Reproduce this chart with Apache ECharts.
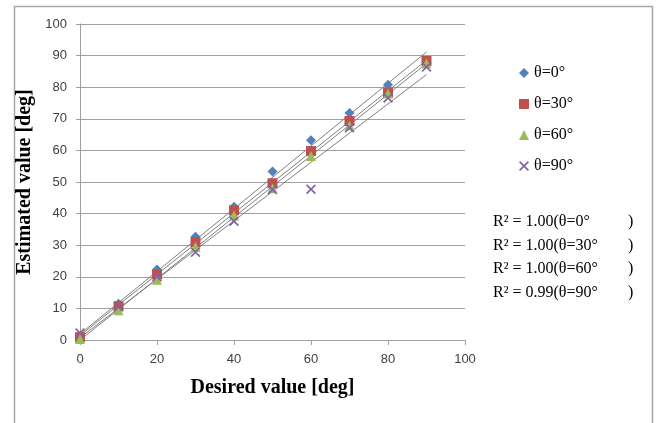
<!DOCTYPE html>
<html>
<head>
<meta charset="utf-8">
<script src="https://cdn.jsdelivr.net/npm/echarts@6/dist/echarts.min.js"></script>
<style>
html,body{margin:0;padding:0;background:#fff;}
#c{width:658px;height:423px;}
</style>
</head>
<body>
<div id="c"></div>
<script>
var xValues = [0, 10, 20, 30, 40, 50, 60, 70, 80, 90];
var theta0 = [-0.8, 11.5, 22.3, 32.7, 42.2, 53.3, 63.2, 71.8, 80.8, 88.2];
var theta30 = [0.9, 10.7, 20.8, 31.0, 41.0, 49.6, 59.8, 69.3, 78.3, 88.3];
var theta60 = [0.3, 9.4, 19.1, 29.5, 39.4, 48.0, 58.2, 67.9, 78.0, 87.6];
var theta90 = [2.2, 10.5, 20.0, 27.8, 37.6, 47.6, 47.7, 67.2, 76.6, 86.4];
var seriesNames = ['θ=0°', 'θ=30°', 'θ=60°', 'θ=90°'];
var r2Labels = ['R² = 1.00(θ=0°', 'R² = 1.00(θ=30°', 'R² = 1.00(θ=60°', 'R² = 0.99(θ=90°'];
var yTicks = [0, 10, 20, 30, 40, 50, 60, 70, 80, 90, 100];
var xTicks = [0, 20, 40, 60, 80, 100];

var colors = ['#4F81BD', '#C0504D', '#9BBB59', '#8064A2'];
var symbols = ['diamond', 'rect', 'triangle',
  'path://M0,1.2L1.2,0L10,8.8L8.8,10Z M8.8,0L10,1.2L1.2,10L0,8.8Z'];
var symbolSizes = [10, 10, 10, 10];
var allY = [theta0, theta30, theta60, theta90];

function pairs(ys) { return xValues.map(function (x, i) { return [x, ys[i]]; }); }
function fit(ys) {
  var n = xValues.length, sx = 0, sy = 0, sxx = 0, sxy = 0;
  for (var i = 0; i < n; i++) { sx += xValues[i]; sy += ys[i]; sxx += xValues[i] * xValues[i]; sxy += xValues[i] * ys[i]; }
  var m = (n * sxy - sx * sy) / (n * sxx - sx * sx);
  var b = (sy - m * sx) / n;
  var x0 = xValues[0], x1 = xValues[n - 1];
  return [[x0, m * x0 + b], [x1, m * x1 + b]];
}

var series = [];
allY.forEach(function (ys, k) {
  series.push({
    type: 'line', data: fit(ys), symbol: 'none', silent: true, z: 1,
    lineStyle: { color: '#7f7f7f', width: 1 }
  });
});
allY.forEach(function (ys, k) {
  series.push({
    name: seriesNames[k], type: 'scatter', data: pairs(ys), z: 3,
    symbol: symbols[k], symbolSize: symbolSizes[k],
    itemStyle: { color: colors[k], opacity: 1 }
  });
});

var serif = '"Liberation Serif","Times New Roman",serif';
var graphics = [{
  type: 'rect', left: 12, top: 4, silent: true,
  shape: { x: 0, y: 0, width: 638, height: 440 },
  style: { fill: 'none', stroke: '#a6a6a6', lineWidth: 1.5 }
}];
r2Labels.forEach(function (t, i) {
  graphics.push({ type: 'text', left: 493, top: 214 + i * 23.5,
    style: { text: t, font: '16px ' + serif, fill: '#000' } });
  graphics.push({ type: 'text', left: 628, top: 214 + i * 23.5,
    style: { text: ')', font: '16px ' + serif, fill: '#000' } });
});

var chart = echarts.init(document.getElementById('c'));
chart.setOption({
  animation: false,
  backgroundColor: '#fff',
  grid: { left: 80, right: 193, top: 24, bottom: 83, containLabel: false },
  xAxis: {
    type: 'value', min: xTicks[0], max: xTicks[xTicks.length - 1], interval: 20,
    name: 'Desired value [deg]', nameLocation: 'middle', nameGap: 38,
    nameTextStyle: { fontFamily: serif, fontWeight: 'bold', fontSize: 20, color: '#000' },
    axisLine: { show: true, lineStyle: { color: '#a0a0a0' } },
    axisTick: { show: true, length: 5, inside: false, lineStyle: { color: '#a0a0a0' } },
    axisLabel: { margin: 13, fontSize: 13, color: '#404040', fontFamily: '"Liberation Sans",Arial,sans-serif' },
    splitLine: { show: false }
  },
  yAxis: {
    type: 'value', min: yTicks[0], max: yTicks[yTicks.length - 1], interval: 10,
    name: 'Estimated value [deg]', nameLocation: 'middle', nameGap: 43,
    nameTextStyle: { fontFamily: serif, fontWeight: 'bold', fontSize: 20, color: '#000' },
    axisLine: { show: true, lineStyle: { color: '#a0a0a0' } },
    axisTick: { show: true, length: 4, lineStyle: { color: '#a0a0a0' } },
    axisLabel: { margin: 13, fontSize: 13, color: '#404040', fontFamily: '"Liberation Sans",Arial,sans-serif' },
    splitLine: { show: true, lineStyle: { color: '#a0a0a0', width: 1 } }
  },
  legend: {
    data: seriesNames, orient: 'vertical', left: 514, top: 60,
    itemWidth: 10, itemHeight: 10, itemGap: 15,
    textStyle: { fontFamily: serif, fontSize: 16, color: '#000', lineHeight: 16 }
  },
  graphic: graphics,
  series: series
});
</script>
</body>
</html>
